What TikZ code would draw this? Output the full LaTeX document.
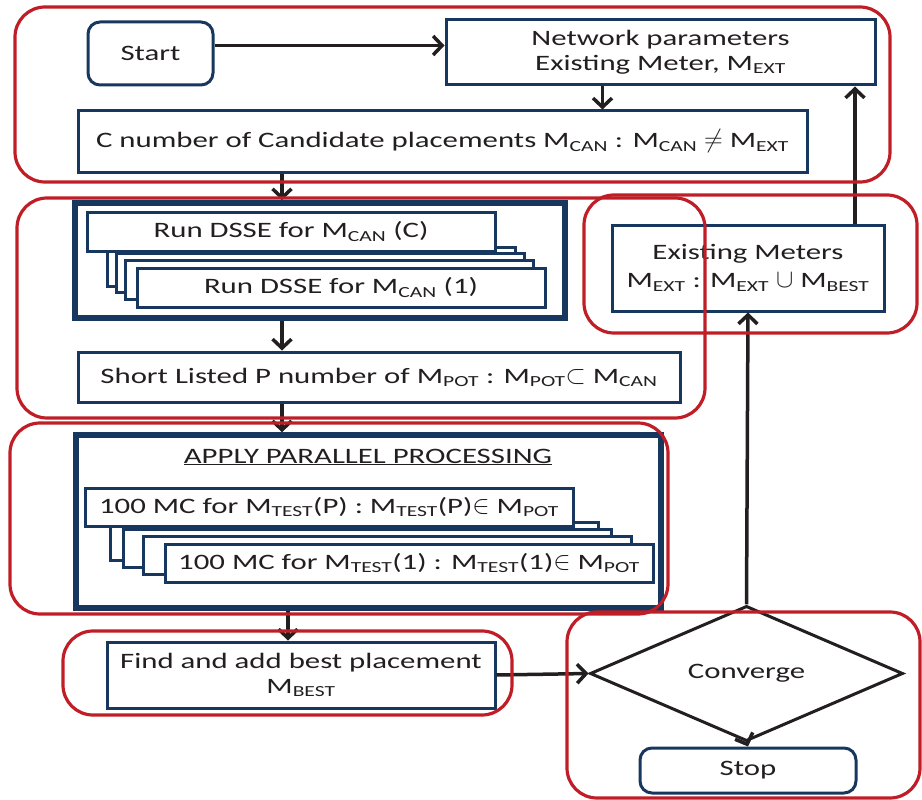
\documentclass[tikz,border=0pt]{standalone}
\usepackage{fontspec}
\setmainfont{Carlito}[FakeStretch=1.4]
\usetikzlibrary{shapes.geometric,arrows.meta}
\definecolor{navy}{RGB}{23,55,94}
\definecolor{grpred}{RGB}{192,30,38}
\definecolor{ink}{RGB}{35,31,32}
\newcommand{\sbs}[1]{\textsubscript{#1}}
\newcommand{\sym}[1]{\scalebox{1.25}{$#1$}}

\begin{document}
\begin{tikzpicture}[x=1pt,y=-1pt,
    every node/.style={font=\fontsize{22}{25}\selectfont,text=ink},
    box/.style={draw=navy,line width=3pt,fill=white,inner sep=0pt,align=center},
    bigbox/.style={draw=navy,line width=5.5pt,fill=white,inner sep=0pt},
    card/.style={box,minimum width=408pt,minimum height=39pt},
    mccard/.style={box,minimum width=488pt,minimum height=38pt},
    term/.style={box,rounded corners=12pt},
    group/.style={draw=grpred,line width=3.2pt,rounded corners=30pt},
    flow/.style={draw=ink,line width=3.5pt,-{Straight Barb[length=9pt,width=19pt,line width=3.5pt]}}]
        \useasboundingbox (0,0) rectangle (922,800);
        \draw (150.5,53.5) node[term,minimum width=125pt,minimum height=63pt] (start) {Start};
        \draw (660.5,52.5) node[box,minimum width=429pt,minimum height=65pt] (net) {Network parameters\\Existing Meter, M\sbs{EXT}};
        \draw (442.5,141.5) node[box,minimum width=729pt,minimum height=61pt] (cnum) {C number of Candidate placements M\sbs{CAN} : M\sbs{CAN} \sym{\neq} M\sbs{EXT}};
        \draw (320,260.5) node[bigbox,minimum width=490pt,minimum height=115pt] (dsse) {};
        \draw (311,266.5) node[card] (dsse4) {};
        \draw (320,272.5) node[card] (dsse3) {};
        \draw (329,279.5) node[card] (dsse2) {};
        \draw (341,287.5) node[card] (dsse1) {Run DSSE for M\sbs{CAN} (1)};
        \draw (291,231.5) node[card] (dsseC) {Run DSSE for M\sbs{CAN} (C)};
        \draw (379,377) node[box,minimum width=602pt,minimum height=50pt] (short) {Short Listed P number of M\sbs{POT} : M\sbs{POT}\sym{\subset} M\sbs{CAN}};
        \draw (368.5,521.5) node[bigbox,minimum width=585pt,minimum height=173pt] (par) {};
        \draw (368,457) node (partitle) {\underline{APPLY PARALLEL PROCESSING}};
        \draw (354,541) node[mccard] (mc4) {};
        \draw (367,548) node[mccard] (mc3) {};
        \draw (387,555) node[mccard] (mc2) {};
        \draw (409,563) node[mccard] (mc1) {100 MC for M\sbs{TEST}(1) : M\sbs{TEST}(1)\sym{\in} M\sbs{POT}};
        \draw (329,507) node[mccard] (mcP) {100 MC for M\sbs{TEST}(P) : M\sbs{TEST}(P)\sym{\in} M\sbs{POT}};
        \draw (301,675) node[box,minimum width=388pt,minimum height=66pt] (find) {Find and add best placement\\M\sbs{BEST}};
        \draw (746.5,673.5) node[diamond,draw=ink,line width=3pt,fill=white,inner sep=0pt,minimum width=313pt,minimum height=111pt] (conv) {Converge};
        \draw (748,770.5) node[term,minimum width=216pt,minimum height=45pt] (stop) {Stop};
        \draw (748,268) node[box,minimum width=272pt,minimum height=86pt,font=\fontsize{22}{28}\selectfont] (exist) {Existing Meters\\M\sbs{EXT} : M\sbs{EXT} \sym{\cup} M\sbs{BEST}};
        \coordinate (spine) at (282,0);
        \coordinate (drop) at (288,0);
        \coordinate (ret) at (855,0);
        \draw[flow] ([yshift=8pt]start.east) -- ([yshift=8pt]start.east -| net.west);
        \draw[flow] ([xshift=-58pt]net.south) -- ([xshift=-58pt]net.south |- cnum.north);
        \draw[flow] (spine |- cnum.south) -- (spine |- dsse.north);
        \draw[flow] (spine |- dsse.south) -- (spine |- short.north);
        \draw[flow] (spine |- short.south) -- (spine |- par.north);
        \draw[flow] (drop |- par.south) -- (drop |- find.north);
        \draw[flow] (find.east) -- (conv.west);
        \draw[flow] (conv.south) -- (stop.north);
        \draw[flow] (conv.north) -- (exist.south);
        \draw[flow] (ret |- exist.north) -- (ret |- net.south);
        \draw[group] (15,7) rectangle (890,182);
        \draw[group] (17,198) rectangle (705,418);
        \draw[group] (10,423) rectangle (668,614);
        \draw[group] (63,631) rectangle (512,715);
        \draw[group] (567,612) rectangle (920,798);
        \draw[group] (584,195) rectangle (917,333);
    \end{tikzpicture}
\end{document}
